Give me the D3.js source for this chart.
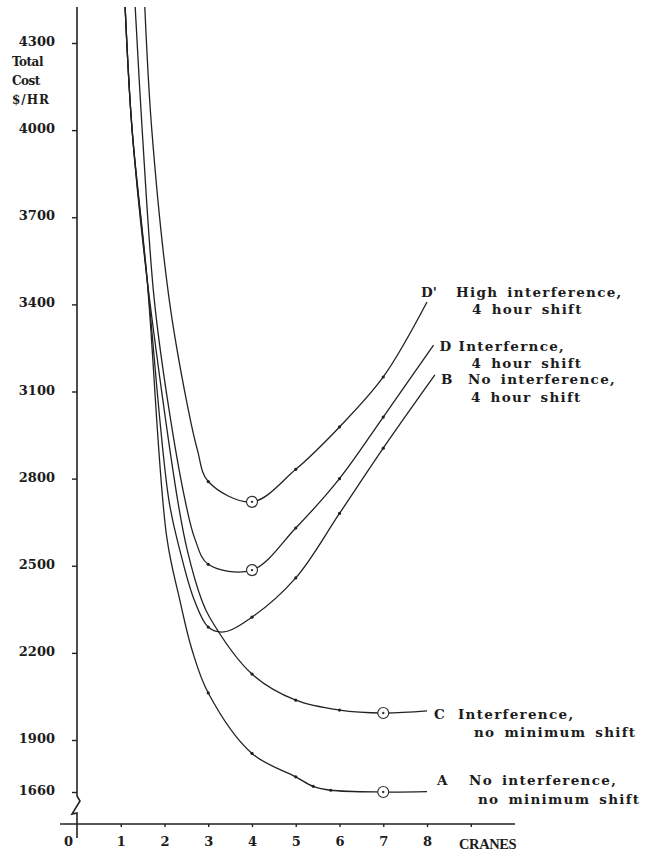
<!DOCTYPE html>
<html>
<head>
<meta charset="utf-8">
<script src="https://cdn.jsdelivr.net/npm/d3@7"></script>
<style>
  body { margin: 0; background: #fff; }
  svg { display: block; }
  .txt { font-family: "DejaVu Serif", serif; font-weight: bold; fill: #1c1c1c; }
  .axis text { font-family: "DejaVu Serif", serif; font-weight: bold; font-size: 13px; fill: #1c1c1c; }
  .axis line { stroke: #222; stroke-width: 1.4; }
</style>
</head>
<body>
<div class="chart"></div>
<script>
// values (cranes, $/HR)
const yTicks = [4300, 4000, 3700, 3400, 3100, 2800, 2500, 2200, 1900, 1660];
const xTicks = [0, 1, 2, 3, 4, 5, 6, 7, 8, 9];

const aCranes = [1.1, 1.26, 1.6, 2.05, 2.35, 2.63, 3, 4, 5, 5.4, 5.8, 7, 8];
const aCost   = [4424, 4000, 3490, 2600, 2382, 2210, 2062, 1838, 1730, 1686, 1668, 1660, 1662];

const bCranes = [1.1, 1.26, 1.6, 2.1, 2.35, 2.68, 3, 3.35, 4, 5, 6, 7, 8.18];
const bCost   = [4424, 4000, 3490, 2726, 2554, 2382, 2289, 2272, 2323, 2458, 2680, 2905, 3157];

const cCranes = [1.1, 1.26, 1.6, 2.3, 2.52, 2.85, 3.04, 4, 5, 6, 7, 8];
const cCost   = [4424, 4000, 3490, 2726, 2554, 2382, 2320, 2127, 2037, 2003, 1993, 2000];

const dCranes = [1.33, 1.49, 1.76, 2.07, 2.47, 2.7, 3, 4, 5, 6, 7, 8.15];
const dCost   = [4424, 4000, 3425, 3070, 2726, 2590, 2505, 2485, 2630, 2800, 3012, 3260];

const dpCranes = [1.55, 1.71, 2.1, 2.5, 2.75, 3, 4, 5, 6, 7, 8];
const dpCost   = [4424, 4000, 3425, 3070, 2900, 2790, 2720, 2832, 2978, 3150, 3408];

const circled = ['A', 'C', 'D', "D'"];

const labelA  = ['A', 'No interference,', 'no minimum shift'];
const labelB  = ['B', 'No interference,', '4 hour shift'];
const labelC  = ['C', 'Interference,', 'no minimum shift'];
const labelD  = ['D', 'Interfernce,', '4 hour shift'];
const labelDp = ["D'", 'High interference,', '4  hour shift'];

const width = 648, height = 858;

const zip = (xs, ys) => xs.map((v, i) => [v, ys[i]]);
const series = [
  { name: 'A', pts: zip(aCranes, aCost), label: labelA },
  { name: 'B', pts: zip(bCranes, bCost), label: labelB },
  { name: 'C', pts: zip(cCranes, cCost), label: labelC },
  { name: 'D', pts: zip(dCranes, dCost), label: labelD },
  { name: "D'", pts: zip(dpCranes, dpCost), label: labelDp }
];

const x = d3.scaleLinear().domain([0, 8]).range([77, 427]);
// broken axis: the 1660..1900 band is squeezed
const y = d3.scaleLinear().domain([1660, 1900, 4300]).range([792, 740, 43]);

const svg = d3.select('.chart').append('svg')
  .attr('width', width)
  .attr('height', height);

// y axis
const yAxis = svg.append('g')
  .attr('class', 'axis')
  .attr('transform', `translate(${x(0)},0)`)
  .call(d3.axisLeft(y).tickValues(yTicks).tickSize(5).tickPadding(17).tickFormat(d3.format('d')));
yAxis.select('.domain').remove();
yAxis.selectAll('text').attr('dy', '0.2em');

svg.append('path')
  .attr('d', `M${x(0)},7 L${x(0)},${y(1660) + 4} l3,5 l-8,13 l5,-1 L${x(0)},838`)
  .attr('fill', 'none')
  .attr('stroke', '#222')
  .attr('stroke-width', 1.6);

// axis title, stacked under 4300
const yTitle = ['Total', 'Cost', '$/HR'];
svg.selectAll('.ytitle')
  .data(yTitle)
  .enter()
  .append('text')
  .attr('class', 'txt ytitle')
  .attr('x', 12)
  .attr('y', (d, i) => 66 + i * 19)
  .style('font-size', '12px')
  .style('letter-spacing', d => d === '$/HR' ? '1px' : '-0.5px')
  .text(d => d);

// x axis
const xBase = 824;
const xAxis = svg.append('g')
  .attr('class', 'axis')
  .attr('transform', `translate(0,${xBase})`)
  .call(d3.axisBottom(x).tickValues(xTicks).tickSize(3).tickPadding(10)
    .tickFormat(d => d === 9 ? '' : d3.format('d')(d)));
xAxis.select('.domain').remove();
xAxis.selectAll('.tick').filter(d => d === 0).select('text').attr('dx', -9);
xAxis.selectAll('.tick').filter(d => d === 0).select('line').remove();

svg.append('line')
  .attr('x1', 60).attr('x2', 515)
  .attr('y1', xBase).attr('y2', xBase)
  .attr('stroke', '#222')
  .attr('stroke-width', 1.6);

svg.append('text')
  .attr('class', 'txt')
  .attr('x', 459)
  .attr('y', xBase + 25)
  .style('font-family', '"Liberation Serif", serif')
  .style('font-size', '14.5px')
  .style('letter-spacing', '-0.4px')
  .text('CRANES');

// curves
svg.append('clipPath').attr('id', 'plot')
  .append('rect').attr('x', x(0)).attr('y', 5).attr('width', 500).attr('height', 800);

const line = d3.line()
  .x(d => x(d[0]))
  .y(d => y(d[1]))
  .curve(d3.curveCatmullRom.alpha(0.5));

const curves = svg.append('g').attr('clip-path', 'url(#plot)');

curves.selectAll('.curve')
  .data(series)
  .enter()
  .append('path')
  .attr('class', 'curve')
  .attr('d', d => line(d.pts))
  .attr('fill', 'none')
  .attr('stroke', '#222')
  .attr('stroke-width', 1.3);

// small plotted points
series.forEach(s => {
  const minPt = s.pts.reduce((m, p) => p[1] < m[1] ? p : m);
  const last = s.pts[s.pts.length - 1];
  const dots = s.pts.filter(p =>
    p[0] >= 2 && p !== last &&
    (Number.isInteger(p[0]) || p[0] > 5) &&
    !(circled.includes(s.name) && p === minPt));
  curves.selectAll(null)
    .data(dots)
    .enter()
    .append('circle')
    .attr('cx', d => x(d[0]))
    .attr('cy', d => y(d[1]))
    .attr('r', 1.6)
    .attr('fill', '#222');

  if (circled.includes(s.name)) {
    svg.append('circle')
      .attr('cx', x(minPt[0]))
      .attr('cy', y(minPt[1]))
      .attr('r', 5.5)
      .attr('fill', '#fff')
      .attr('stroke', '#333')
      .attr('stroke-width', 1.2);
    svg.append('circle')
      .attr('cx', x(minPt[0]))
      .attr('cy', y(minPt[1]))
      .attr('r', 1.2)
      .attr('fill', '#333');
  }
});

// curve labels, hung off each curve's last point
const labelOffsets = {
  "D'": { key: [-6, -5], first: [29, -5], second: [45, 12] },
  'D':  { key: [6, 6],   first: [25, 6],  second: [38, 23] },
  'B':  { key: [6, 9],   first: [33, 9],  second: [36, 27] },
  'C':  { key: [7, 8],   first: [31, 8],  second: [47, 26] },
  'A':  { key: [10, -7], first: [42, -7], second: [51, 12] }
};

series.forEach(s => {
  const last = s.pts[s.pts.length - 1];
  const o = labelOffsets[s.name];
  const px = x(last[0]), py = y(last[1]);
  const g = svg.append('g').attr('class', 'txt').style('font-size', '13.5px');
  g.append('text').attr('x', px + o.key[0]).attr('y', py + o.key[1]).text(s.label[0]);
  g.append('text').attr('x', px + o.first[0]).attr('y', py + o.first[1])
    .style('letter-spacing', '1.3px').style('word-spacing', '3px').text(s.label[1]);
  g.append('text').attr('x', px + o.second[0]).attr('y', py + o.second[1])
    .style('letter-spacing', '1.3px').style('word-spacing', '3px').text(s.label[2]);
});
</script>
</body>
</html>
